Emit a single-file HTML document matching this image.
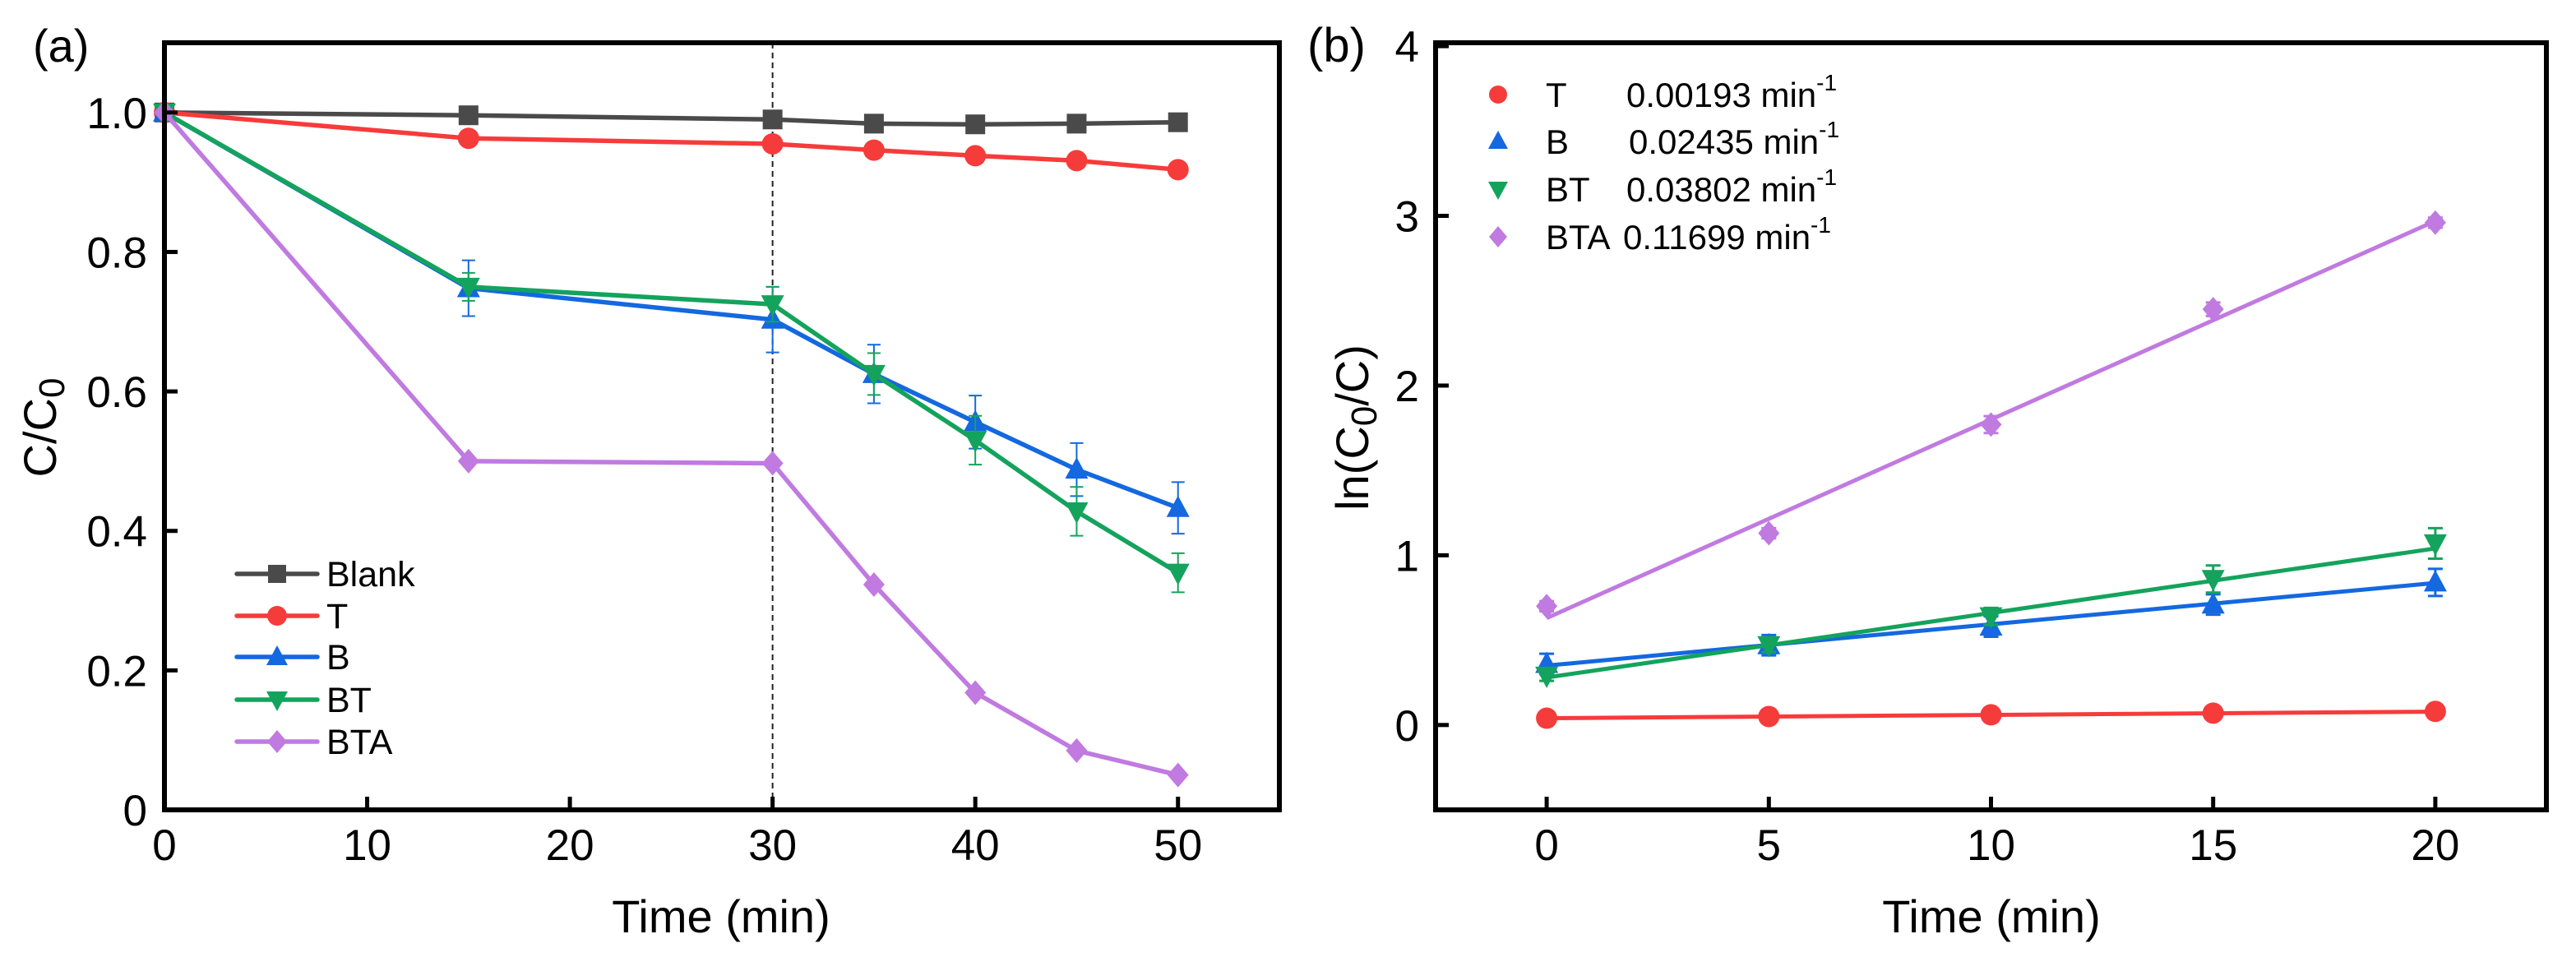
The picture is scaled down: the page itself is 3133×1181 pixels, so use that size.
<!DOCTYPE html>
<html><head><meta charset="utf-8"><style>
html,body{margin:0;padding:0;background:#fff}
svg{display:block;font-family:"Liberation Sans",Arial,sans-serif}
</style></head><body>
<svg id="chart" width="3133" height="1181" viewBox="0 0 3133 1181" xmlns="http://www.w3.org/2000/svg"></svg>
<script>
// ---- Panel (a) data ----
const timesA = [0, 15, 30, 35, 40, 45, 50];
const blankA = [1, 0.996, 0.99, 0.984, 0.983, 0.984, 0.986];
const tA = [1, 0.963, 0.955, 0.946, 0.938, 0.931, 0.918];
const bA = [1, 0.748, 0.703, 0.625, 0.556, 0.488, 0.433];
const bErrA = [0, 0.04, 0.047, 0.042, 0.038, 0.038, 0.037];
const btA = [1, 0.75, 0.725, 0.625, 0.53, 0.428, 0.34];
const btErrA = [0, 0.02, 0.025, 0.03, 0.035, 0.035, 0.028];
const btaA = [1, 0.5, 0.497, 0.323, 0.168, 0.085, 0.05];
const xTicksA = [0, 10, 20, 30, 40, 50];
const yTicksA = [0, 0.2, 0.4, 0.6, 0.8, 1.0];
const yTickLabelsA = ["0", "0.2", "0.4", "0.6", "0.8", "1.0"];
// ---- Panel (b) data ----
const timesB = [0, 5, 10, 15, 20];
const tB = [0.04, 0.05, 0.06, 0.07, 0.08];
const bB = [0.36, 0.47, 0.58, 0.71, 0.84];
const bErrB = [0.06, 0.06, 0.06, 0.06, 0.08];
const btB = [0.29, 0.47, 0.64, 0.86, 1.07];
const btErrB = [0.03, 0.04, 0.05, 0.08, 0.09];
const btaB = [0.7, 1.13, 1.77, 2.45, 2.96];
const btaErrB = [0.03, 0.03, 0.05, 0.04, 0.03];
const fitIntercept = [0.04, 0.35, 0.28, 0.63];
const fitSlope = [0.00193, 0.02435, 0.03802, 0.11699];
const xTicksB = [0, 5, 10, 15, 20];
const yTicksB = [0, 1, 2, 3, 4];

const NS = "http://www.w3.org/2000/svg";
const svg = document.getElementById("chart");
function mk(tag, attrs, parent, text) {
  const e = document.createElementNS(NS, tag);
  for (const k in attrs) e.setAttribute(k, attrs[k]);
  if (text !== undefined) e.textContent = text;
  (parent || svg).appendChild(e);
  return e;
}
const COL = {blank:"#4a4a4a", t:"#f63b3b", b:"#1468e0", bt:"#14a35c", bta:"#c07ae0"};

function marker(g, type, x, y, c, r) {
  r = r || 12;
  let e;
  if (type === "square") e = mk("rect", {x:x-r, y:y-r, width:2*r, height:2*r, fill:c}, g);
  else if (type === "circle") e = mk("circle", {cx:x, cy:y, r:r+1, fill:c}, g);
  else if (type === "up") e = mk("polygon", {points:`${x},${y-r-3} ${x-r-2},${y+r-1} ${x+r+2},${y+r-1}`, fill:c}, g);
  else if (type === "down") e = mk("polygon", {points:`${x},${y+r+3} ${x-r-2},${y-r+1} ${x+r+2},${y-r+1}`, fill:c}, g);
  else e = mk("polygon", {points:`${x},${y-r-3} ${x+r+1},${y} ${x},${y+r+3} ${x-r-1},${y}`, fill:c}, g);
  return e;
}

// ================= Panel A =================
const A = {l:200, r:1556, t:52, b:985, xmin:0, xmax:55, ymin:0, ymax:1.1};
const xa = v => A.l + (v - A.xmin) / (A.xmax - A.xmin) * (A.r - A.l);
const ya = v => A.b - (v - A.ymin) / (A.ymax - A.ymin) * (A.b - A.t);
const gA = mk("g", {});



const dash = mk("line", {x1:xa(30), x2:xa(30), y1:A.t, y2:A.b, stroke:"#222", "stroke-width":2, "stroke-dasharray":"7,5"}, gA);



function seriesA(name, vals, errs, c, type) {
  const g = mk("g", {}, gA);
  
  
  mk("polyline", {points: vals.map((v,i)=>`${xa(timesA[i])},${ya(v)}`).join(" "), fill:"none", stroke:c, "stroke-width":5.5, "stroke-linejoin":"round"}, g);
  if (errs) errs.forEach((e,i)=>{
    if (!e) return;
    const x = xa(timesA[i]);
    mk("line", {x1:x, x2:x, y1:ya(vals[i]-e), y2:ya(vals[i]+e), stroke:c, "stroke-width":2}, g);
    mk("line", {x1:x-8, x2:x+8, y1:ya(vals[i]-e), y2:ya(vals[i]-e), stroke:c, "stroke-width":2}, g);
    mk("line", {x1:x-8, x2:x+8, y1:ya(vals[i]+e), y2:ya(vals[i]+e), stroke:c, "stroke-width":2}, g);
  });
  vals.forEach((v,i)=>{
    const m = marker(g, type, xa(timesA[i]), ya(v), c);
    
    
  });
}
seriesA("blank", blankA, null, COL.blank, "square");
seriesA("t", tA, null, COL.t, "circle");
seriesA("b", bA, bErrA, COL.b, "up");
seriesA("bt", btA, btErrA, COL.bt, "down");
seriesA("bta", btaA, null, COL.bta, "diamond");

const frameA = mk("rect", {x:A.l, y:A.t, width:A.r-A.l, height:A.b-A.t, fill:"none", stroke:"#000", "stroke-width":6}, gA);


xTicksA.forEach(v=>{
  mk("line", {x1:xa(v), x2:xa(v), y1:A.b, y2:A.b-16, stroke:"#000", "stroke-width":5}, gA);
  const t = mk("text", {x:xa(v), y:1046, "font-size":53, "text-anchor":"middle"}, gA, String(v));
  
  
});
yTicksA.forEach((v,i)=>{
  mk("line", {x1:A.l, x2:A.l+16, y1:ya(v), y2:ya(v), stroke:"#000", "stroke-width":5}, gA);
  const t = mk("text", {x:179, y:ya(v)+19, "font-size":53, "text-anchor":"end"}, gA, yTickLabelsA[i]);
  
  
});
const xtA = mk("text", {x:877, y:1134, "font-size":56, "text-anchor":"middle"}, gA, "Time (min)");


const ytA = mk("text", {x:0, y:0, "font-size":56, "text-anchor":"middle", transform:"translate(68,520) rotate(-90)"}, gA);


mk("tspan", {}, ytA, "C/C");
mk("tspan", {"font-size":44, dy:10}, ytA, "0");
const lblA = mk("text", {x:40, y:75, "font-size":56}, gA, "(a)");



const legA = [["Blank", COL.blank, "square"], ["T", COL.t, "circle"], ["B", COL.b, "up"], ["BT", COL.bt, "down"], ["BTA", COL.bta, "diamond"]];
const legRowsA = [698, 749, 799, 851, 902];
legA.forEach((e,i)=>{
  const g = mk("g", {}, gA);
  
  
  const y = legRowsA[i];
  mk("line", {x1:288, x2:386, y1:y, y2:y, stroke:e[1], "stroke-width":5.5, "stroke-linecap":"round"}, g);
  marker(g, e[2], 337, y, e[1], 11);
  mk("text", {x:397, y:y+15, "font-size":43}, g, e[0]);
});

// ================= Panel B =================
const B = {l:1746, r:3097, t:52, b:985, xmin:-2.5, xmax:22.5, ymin:-0.5, ymax:4.02};
const xb = v => B.l + (v - B.xmin) / (B.xmax - B.xmin) * (B.r - B.l);
const yb = v => B.b - (v - B.ymin) / (B.ymax - B.ymin) * (B.b - B.t);
const gB = mk("g", {});



function seriesB(name, idx, vals, errs, c, type) {
  const g = mk("g", {}, gB);
  
  
  const x0 = timesB[0], x1 = timesB[timesB.length-1];
  const fit = mk("line", {x1:xb(x0), x2:xb(x1), y1:yb(fitIntercept[idx]+fitSlope[idx]*x0), y2:yb(fitIntercept[idx]+fitSlope[idx]*x1), stroke:c, "stroke-width":5}, g);
  
  
  if (errs) errs.forEach((e,i)=>{
    const x = xb(timesB[i]);
    mk("line", {x1:x, x2:x, y1:yb(vals[i]-e), y2:yb(vals[i]+e), stroke:c, "stroke-width":3}, g);
    mk("line", {x1:x-9, x2:x+9, y1:yb(vals[i]-e), y2:yb(vals[i]-e), stroke:c, "stroke-width":3}, g);
    mk("line", {x1:x-9, x2:x+9, y1:yb(vals[i]+e), y2:yb(vals[i]+e), stroke:c, "stroke-width":3}, g);
  });
  vals.forEach((v,i)=>{
    const m = marker(g, type, xb(timesB[i]), yb(v), c);
    
    
  });
}
seriesB("t", 0, tB, null, COL.t, "circle");
seriesB("b", 1, bB, bErrB, COL.b, "up");
seriesB("bt", 2, btB, btErrB, COL.bt, "down");
seriesB("bta", 3, btaB, btaErrB, COL.bta, "diamond");

const frameB = mk("rect", {x:B.l, y:B.t, width:B.r-B.l, height:B.b-B.t, fill:"none", stroke:"#000", "stroke-width":6}, gB);


xTicksB.forEach(v=>{
  mk("line", {x1:xb(v), x2:xb(v), y1:B.b, y2:B.b-16, stroke:"#000", "stroke-width":5}, gB);
  const t = mk("text", {x:xb(v), y:1046, "font-size":53, "text-anchor":"middle"}, gB, String(v));
  
  
});
yTicksB.forEach(v=>{
  mk("line", {x1:B.l, x2:B.l+16, y1:yb(v), y2:yb(v), stroke:"#000", "stroke-width":5}, gB);
  const t = mk("text", {x:1726, y:yb(v)+19, "font-size":53, "text-anchor":"end"}, gB, String(v));
  
  
});
const xtB = mk("text", {x:2422, y:1134, "font-size":56, "text-anchor":"middle"}, gB, "Time (min)");


const ytB = mk("text", {x:0, y:0, "font-size":56, "text-anchor":"middle", transform:"translate(1664,520) rotate(-90)"}, gB);


mk("tspan", {}, ytB, "ln(C");
mk("tspan", {"font-size":44, dy:10}, ytB, "0");
mk("tspan", {dy:-10}, ytB, "/C)");
const lblB = mk("text", {x:1590, y:75, "font-size":58}, gB, "(b)");



const legNamesB = ["T", "B", "BT", "BTA"];
const legRatesB = ["0.00193", "0.02435", "0.03802", "0.11699"];
const legColB = [COL.t, COL.b, COL.bt, COL.bta];
const legTypeB = ["circle", "up", "down", "diamond"];
const legRowsB = [115, 172, 230, 288];
const legValX = [1978, 1981, 1978, 1974];
legNamesB.forEach((n,i)=>{
  const g = mk("g", {}, gB);
  
  
  const y = legRowsB[i];
  marker(g, legTypeB[i], 1822, y, legColB[i], 10);
  mk("text", {x:1880, y:y+15, "font-size":42}, g, n);
  const t = mk("text", {x:legValX[i], y:y+15, "font-size":42}, g, legRatesB[i] + " min");
  mk("tspan", {"font-size":28, dy:-20}, t, "-1");
});
</script>
</body></html>
